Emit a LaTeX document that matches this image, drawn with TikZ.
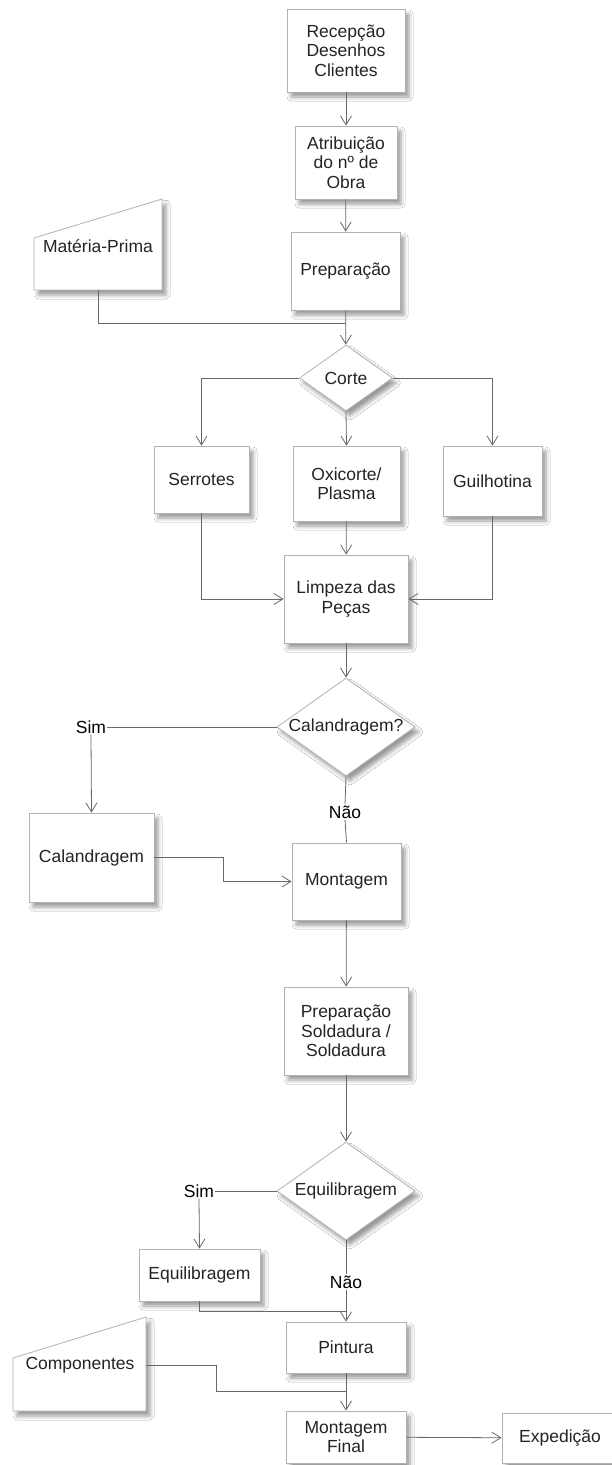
\documentclass[tikz,border=0pt]{standalone}
\usepackage{fontspec}
\setmainfont{Liberation Sans}
\usetikzlibrary{arrows.meta,shapes.geometric,shadows.blur}
\definecolor{edgec}{HTML}{B2B2B2}
\definecolor{connc}{HTML}{686868}
\definecolor{txtc}{HTML}{242424}
\begin{document}
\begin{tikzpicture}[x=1pt,y=-1pt,
  shad/.style={blur shadow={shadow xshift=4pt,shadow yshift=-5pt,shadow blur radius=4pt,shadow opacity=40}},
  box/.style={draw=edgec,fill=white,line width=0.8pt,inner sep=0pt,align=center,text=txtc,
    font=\fontsize{17.5}{19.5}\selectfont,shad},
  dia/.style={box,diamond},
  inshape/.style={draw=edgec,fill=white,line width=0.8pt,shad},
  lbl/.style={inner sep=1pt,text=black,font=\fontsize{17.5}{19.5}\selectfont},
  plain/.style={inner sep=0pt,text=txtc,font=\fontsize{17.5}{19.5}\selectfont},
  conn/.style={draw=connc,line width=0.8pt},
  arr/.style={conn,-{Straight Barb[length=9pt,width=11pt]}}]
\useasboundingbox[fill=white] (0,0) rectangle (611,1465);

% nodes
\node[box,minimum width=118pt,minimum height=83pt] (rec) at (346,50.5) {Recepção\\Desenhos\\Clientes};
\node[box,minimum width=102pt,minimum height=73pt] (atr) at (346,162.5) {Atribuição\\do nº de\\Obra};
\node[box,minimum width=109pt,minimum height=78pt] (prep) at (345.5,271) {Preparação};

\draw[inshape] (34,238) coordinate (mptl) -- (162,199) -- (162,290) -- (34,290) -- cycle;
\coordinate (mpb) at (98,290);
\node[plain] (mp) at (98,246) {Matéria-Prima};

\node[dia,minimum width=93pt,minimum height=66pt] (corte) at (346,378) {\makebox[0pt]{Corte}};

\node[box,minimum width=95pt,minimum height=67pt] (ser) at (201.5,479.5) {Serrotes};
\node[box,minimum width=107pt,minimum height=75pt] (oxi) at (346.5,483.5) {Oxicorte/\\Plasma};
\node[box,minimum width=99pt,minimum height=70pt] (gui) at (492.5,481) {Guilhotina};
\node[box,minimum width=124pt,minimum height=88pt] (limp) at (346,599) {Limpeza das\\Peças};

\node[dia,minimum width=138pt,minimum height=98pt] (calq) at (346,727) {\makebox[0pt]{Calandragem?}};
\node[lbl] (sim1) at (91,727) {Sim};
\node[lbl] (nao1) at (345,812) {Não};

\node[box,minimum width=125pt,minimum height=89pt] (cal) at (91.5,857.5) {Calandragem};
\node[box,minimum width=109pt,minimum height=77pt] (mont) at (346.5,881.5) {Montagem};
\coordinate (calbend) at (223,857.5);

\node[box,minimum width=124pt,minimum height=88pt] (solda) at (346,1031) {Preparação\\Soldadura /\\Soldadura};

\node[dia,minimum width=138pt,minimum height=98pt] (equiq) at (346,1191) {\makebox[0pt]{Equilibragem}};
\node[lbl] (sim2) at (199,1191) {Sim};
\node[lbl] (nao2) at (346,1282) {Não};

\node[box,minimum width=121pt,minimum height=52pt] (equi) at (199.5,1275) {Equilibragem};
\node[box,minimum width=120pt,minimum height=51pt] (pint) at (346,1347.5) {Pintura};

\draw[inshape] (13,1358) -- (146,1317) -- (146,1411) -- (13,1411) -- cycle;
\coordinate (compr) at (146,1365);
\coordinate (compbend) at (216,1365);
\node[plain] (comp) at (80,1365) {Componentes};

\node[box,minimum width=120pt,minimum height=52pt] (mfin) at (346,1437) {Montagem\\Final};
\node[box,minimum width=116pt,minimum height=50pt] (exped) at (560,1438) {Expedição};

\coordinate (j1) at (346,323);
\coordinate (j2) at (346,1311);
\coordinate (j3) at (346,1391);

% connectors
\draw[arr] (rec) -- (atr);
\draw[arr] (atr) -- (prep);
\draw[arr] (prep) -- (corte);
\draw[conn] (mpb) |- (j1);
\draw[arr] (corte.west) -| (ser.north);
\draw[arr] (corte.east) -| (gui.north);
\draw[arr] (corte.south) -- (oxi.north);
\draw[arr] (ser.south) |- (limp.west);
\draw[arr] (gui.south) |- (limp.east);
\draw[arr] (oxi) -- (limp);
\draw[arr] (limp.south) -- (calq.north);
\draw[conn] (calq.west) -- (sim1.east);
\draw[arr] (sim1.south) -- (cal.north);
\draw[conn] (calq.south) -- (nao1.north);
\draw[conn] (nao1.south) -- (mont.north);
\draw[arr] (cal.east) -- (calbend) |- (mont.west);
\draw[arr] (mont) -- (solda);
\draw[arr] (solda.south) -- (equiq.north);
\draw[conn] (equiq.west) -- (sim2.east);
\draw[arr] (sim2.south) -- (equi.north);
\draw[conn] (equiq.south) -- (nao2.north);
\draw[arr] (nao2.south) -- (pint.north);
\draw[conn] (equi.south) |- (j2);
\draw[arr] (pint) -- (mfin);
\draw[conn] (compr) -- (compbend) |- (j3);
\draw[arr] (mfin) -- (exped);
\end{tikzpicture}
\end{document}
